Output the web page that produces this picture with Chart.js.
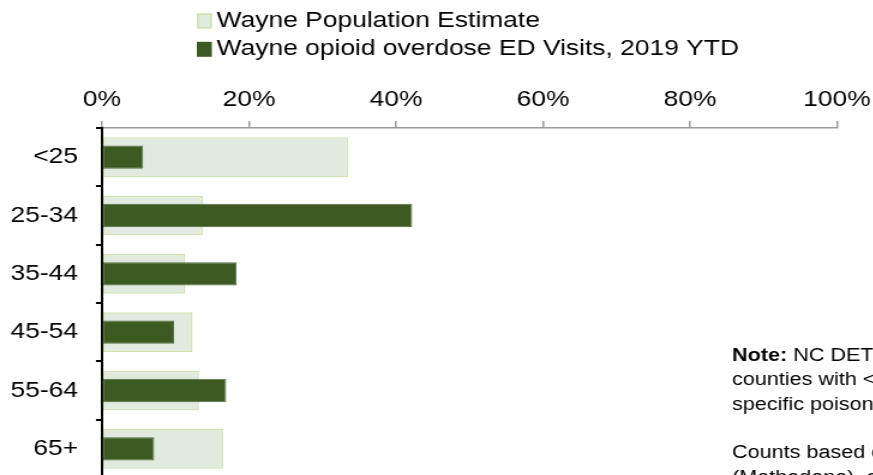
<!DOCTYPE html>
<html>
<head>
<meta charset="utf-8">
<script src="https://cdn.jsdelivr.net/npm/chart.js@4.4.1/dist/chart.umd.min.js"></script>
<style>
  html, body { margin: 0; padding: 0; overflow: hidden; background: #fff; }
  #frame { width: 873px; height: 475px; overflow: hidden; position: relative; }
  /* the source picture is stretched sideways, so the chart is drawn narrow and widened */
  #ageChart { position: absolute; left: 0; top: 0; display: block; transform: scale(1.2, 1); transform-origin: 0 0; }
</style>
</head>
<body>
<div id="frame"><canvas id="ageChart" width="728" height="490"></canvas></div>
<script>
const ageGroups = ["<25", "25-34", "35-44", "45-54", "55-64", "65+"];
const popShare = [33.5, 13.7, 11.3, 12.3, 13.2, 16.5];   // Wayne Population Estimate (%)
const edShare = [5.6, 42.2, 18.3, 9.8, 16.9, 7.1];       // opioid overdose ED visits (%)
const seriesNames = ["Wayne Population Estimate", "Wayne opioid overdose ED Visits, 2019 YTD"];
const noteLines = [
  ["Note:", " NC DETECT ED visit counts are suppressed in"],
  ["", "counties with <5 visits for a given age group and"],
  ["", "specific poisoning type."],
  ["", ""],
  ["", "Counts based on ICD-10-CM codes T40.0-T40.3"],
  ["", "(Methadone), and T40.4 (Other synthetic narcotics)."]
];

const FONT = '"Liberation Sans", Arial, sans-serif';
Chart.defaults.font.family = FONT;
Chart.defaults.color = '#000';

// legend in two left-aligned rows + side note
const sideText = {
  id: 'sideText',
  afterDraw(chart) {
    const ctx = chart.ctx;
    ctx.save();
    ctx.font = '22px ' + FONT;
    ctx.textBaseline = 'middle';
    chart.data.datasets.forEach((ds, i) => {
      const y = 21 + i * 28.3;
      ctx.fillStyle = ds.backgroundColor;
      ctx.fillRect(164, y - 7.5, 12.5, 15);
      if (i === 0) {
        ctx.strokeStyle = ds.borderColor;
        ctx.lineWidth = 1.5;
        ctx.strokeRect(164.75, y - 6.75, 11, 13.5);
      }
      ctx.fillStyle = '#000';
      ctx.fillText(ds.label, 180.5, y);
    });

    ctx.textBaseline = 'alphabetic';
    noteLines.forEach((ln, i) => {
      const y = 361 + i * 24.3;
      let x = 610;
      if (ln[0]) {
        ctx.font = 'bold 18px ' + FONT;
        ctx.fillText(ln[0], x, y);
        x += ctx.measureText(ln[0]).width;
      }
      ctx.font = '18px ' + FONT;
      ctx.fillText(ln[1], x, y);
    });
    ctx.restore();
  }
};

new Chart(document.getElementById('ageChart'), {
  type: 'bar',
  data: {
    labels: ageGroups,
    datasets: [{
      label: seriesNames[0],
      data: popShare,
      backgroundColor: '#E0EADF',
      borderColor: '#D0E2B2',
      borderWidth: 1.5,
      borderSkipped: false,
      barPercentage: 0.68,
      categoryPercentage: 1,
      grouped: false,
      order: 2
    }, {
      label: seriesNames[1],
      data: edShare,
      backgroundColor: '#3E5A23',
      borderColor: '#566E45',
      borderWidth: 1,
      borderSkipped: false,
      barPercentage: 0.4,
      categoryPercentage: 1,
      grouped: false,
      order: 1
    }]
  },
  options: {
    indexAxis: 'y',
    responsive: false,
    animation: false,
    layout: { padding: { top: 0, right: 30.5, bottom: 12, left: 0 } },
    plugins: {
      legend: { display: false },
      tooltip: { enabled: false }
    },
    scales: {
      x: {
        position: 'top',
        min: 0,
        max: 100,
        afterFit: s => { s.height = 128; s.paddingLeft = 0; s.paddingRight = 0; },
        ticks: {
          stepSize: 20,
          padding: 8,
          color: '#000',
          font: { size: 22 },
          callback: v => v + '%'
        },
        grid: { drawOnChartArea: false, color: '#9a9a9a', lineWidth: 1.5, tickLength: 7 },
        border: { color: '#9a9a9a', width: 1.5 }
      },
      y: {
        z: 1,
        afterFit: s => { s.width = 85; s.paddingTop = 0; s.paddingBottom = 0; },
        ticks: { padding: 15, color: '#000', font: { size: 22 } },
        grid: { drawOnChartArea: false, color: '#000', lineWidth: 2, tickLength: 5 },
        border: { color: '#000', width: 2 }
      }
    }
  },
  plugins: [sideText]
});
</script>
</body>
</html>
